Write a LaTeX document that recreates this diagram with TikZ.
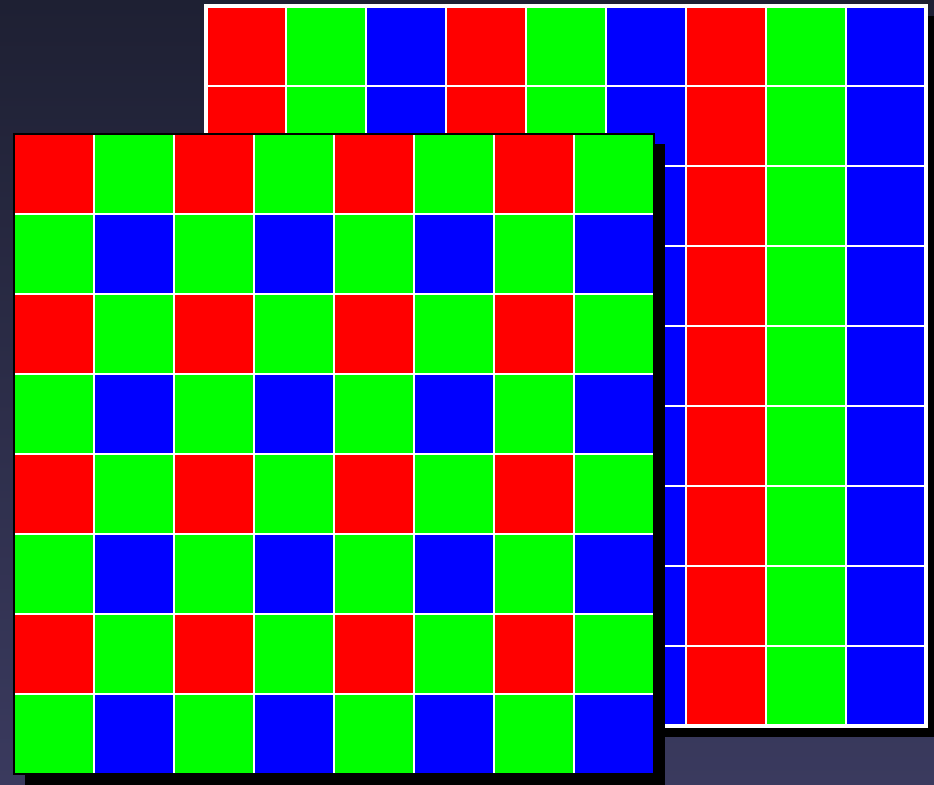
\documentclass[tikz,border=0pt]{standalone}
\usetikzlibrary{calc}
\definecolor{fondoOsc}{HTML}{1E2033}
\definecolor{fondoClaro}{HTML}{3A3A5E}
\definecolor{pixRojo}{HTML}{FF0000}
\definecolor{pixVerde}{HTML}{00FF00}
\definecolor{pixAzul}{HTML}{0000FF}
\begin{document}
\begin{tikzpicture}[x=1cm, y=-1cm,
        celda/.style={draw=white, line width=0.7pt},
        sombra/.style={fill=black},
        borde/.style={line width=1pt}]
    % fondo
    \shade[top color=fondoOsc, bottom color=fondoClaro] (0,0) rectangle (11.675,9.8);
    \useasboundingbox (0,0) rectangle (11.675,9.8);
    % rejilla de franjas (atras)
    \begin{scope}[shift={(2.575,0.075)}]
        \fill[sombra] (0.13,0.13) rectangle (9.2,9.14);
        \foreach \c/\col in {0/pixRojo,1/pixVerde,2/pixAzul,3/pixRojo,4/pixVerde,
                5/pixAzul,6/pixRojo,7/pixVerde,8/pixAzul}
            \foreach \r in {0,...,8}
                \filldraw[celda, fill=\col] (\c,\r) rectangle ++(1,1);
        \draw[borde, white, line width=1.1pt] (0,0) rectangle (9,9);
    \end{scope}
    % rejilla Bayer (delante)
    \begin{scope}[shift={(0.175,1.675)}]
        \fill[sombra] (0.14,0.12) rectangle (8.14,8.2);
        \foreach \r in {0,2,4,6}
            \foreach \c in {0,2,4,6} {
                \filldraw[celda, fill=pixRojo] (\c,\r) rectangle ++(1,1);
                \filldraw[celda, fill=pixVerde] (\c+1,\r) rectangle ++(1,1);
                \filldraw[celda, fill=pixVerde] (\c,\r+1) rectangle ++(1,1);
                \filldraw[celda, fill=pixAzul] (\c+1,\r+1) rectangle ++(1,1);
            }
        \draw[borde, black] (0,0) rectangle (8,8);
    \end{scope}
\end{tikzpicture}
\end{document}
